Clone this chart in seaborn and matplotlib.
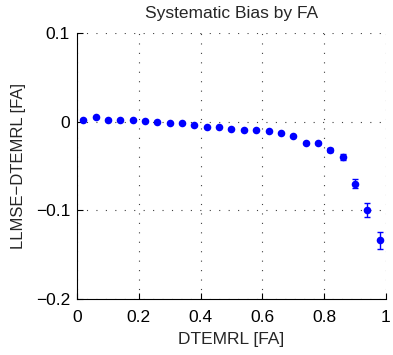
import matplotlib
matplotlib.use("Agg")
import matplotlib.pyplot as plt
import seaborn as sns
import pandas as pd

# bin centres of DTEMRL and mean bias / standard error per bin
dtemrl = [0.02, 0.06, 0.10, 0.14, 0.18, 0.22, 0.26, 0.30, 0.34, 0.38, 0.42, 0.46, 0.50,
          0.54, 0.58, 0.62, 0.66, 0.70, 0.74, 0.78, 0.82, 0.86, 0.90, 0.94, 0.98]
bias = [0.002, 0.005, 0.002, 0.002, 0.002, 0.001, 0.0, -0.002, -0.002, -0.004, -0.006,
        -0.006, -0.008, -0.009, -0.009, -0.011, -0.013, -0.016, -0.024, -0.024, -0.032,
        -0.040, -0.070, -0.100, -0.134]
err = [0.0005, 0.0005, 0.0005, 0.0005, 0.0005, 0.0005, 0.0005, 0.0005, 0.0005, 0.0005,
       0.0005, 0.0005, 0.0005, 0.0005, 0.0005, 0.0005, 0.0007, 0.0008, 0.001, 0.0012,
       0.002, 0.003, 0.005, 0.008, 0.010]

df = pd.DataFrame({"DTEMRL": dtemrl, "bias": bias, "err": err})

sns.set_style("ticks")
plt.rcParams["font.family"] = ["Liberation Sans", "DejaVu Sans"]

fig = plt.figure(figsize=(3.93, 3.55), dpi=100)
ax = fig.add_axes([0.196, 0.158, 0.786, 0.749])

ax.errorbar(df["DTEMRL"], df["bias"], yerr=df["err"], fmt="none", ecolor="blue",
            elinewidth=1.0, capsize=2.5, capthick=1.0, zorder=2)
sns.scatterplot(data=df, x="DTEMRL", y="bias", color="blue", s=30, edgecolor="blue",
                linewidth=0, ax=ax, zorder=3)

ax.set_xlim(0, 1)
ax.set_ylim(-0.2, 0.1)
ax.set_xticks([0, 0.2, 0.4, 0.6, 0.8, 1])
ax.set_xticklabels(["0", "0.2", "0.4", "0.6", "0.8", "1"])
ax.set_yticks([-0.2, -0.1, 0, 0.1])
ax.set_yticklabels(["\u22120.2", "\u22120.1", "0", "0.1"])
ax.tick_params(direction="in", length=4, labelsize=12.5, width=0.8, colors="black")
ax.tick_params(axis="x", pad=8)
ax.tick_params(axis="y", pad=5)
ax.grid(True, linestyle=(0, (1, 7.5)), color="0.25", linewidth=0.8)
for side in ["top", "right"]:
    ax.spines[side].set_visible(False)
for side in ["left", "bottom"]:
    ax.spines[side].set_linewidth(0.8)
    ax.spines[side].set_color("black")

ax.set_xlabel("DTEMRL [FA]", fontsize=12.5, labelpad=5)
ax.set_ylabel("LLMSE\u2212DTEMRL [FA]", fontsize=12, labelpad=7)
ax.set_title("Systematic Bias by FA", fontsize=12.5, pad=11)

fig.savefig("out.png", dpi=100)
